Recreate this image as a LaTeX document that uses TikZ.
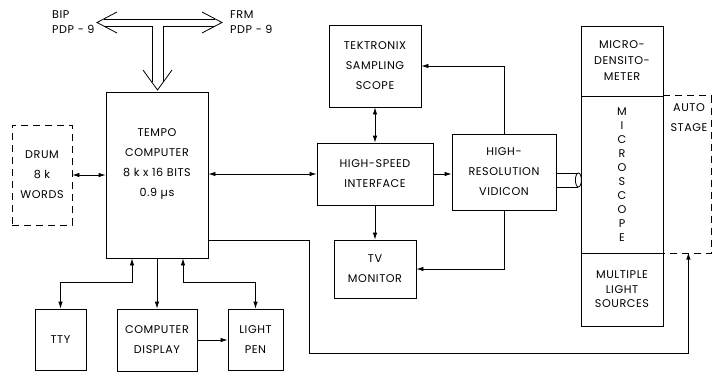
\documentclass[tikz,border=0pt]{standalone}
\usepackage{fontspec}
\usepackage{tikz}
\usetikzlibrary{arrows.meta, positioning}
\newfontfamily\diagfont{Poppins}[LetterSpace=5]
\newcommand{\lbl}{\diagfont\fontsize{11.2}{20}\selectfont}

\tikzset{
  blk/.style={draw, line width=0.8pt, align=center, inner sep=0pt, font=\lbl},
  txt/.style={align=center, inner sep=0pt, font=\lbl},
  arr/.style={line width=0.8pt, -{Latex[length=7pt,width=4.5pt]}},
  darr/.style={line width=0.8pt, {Latex[length=7pt,width=4.5pt]}-{Latex[length=7pt,width=4.5pt]}}
}

\begin{document}
\begin{tikzpicture}[x=1pt, y=-1pt]
            \useasboundingbox (0,0) rectangle (712,373);
            % computer side
            \node[blk, dashed, dash pattern=on 7pt off 5pt, minimum width=60pt, minimum height=100pt] (drum) at (42,175) {DRUM\\8 k\\WORDS};
            \node[blk, minimum width=102pt, minimum height=166pt] (tempo) at (157,175) {};
            \node[txt] at (157,164) {TEMPO\\COMPUTER\\8 k x 16 BITS\\0.9 µs};
            \node[blk, minimum width=51pt, minimum height=61pt] (tty) at (60.5,339.5) {TTY};
            \node[blk, minimum width=80pt, minimum height=62pt] (disp) at (157,340) {COMPUTER\\DISPLAY};
            \node[blk, minimum width=55pt, minimum height=61pt] (pen) at (255.5,339.5) {LIGHT\\PEN};
            % scope and vidicon
            \node[blk, minimum width=92pt, minimum height=82pt] (tek) at (375,66) {TEKTRONIX\\SAMPLING\\SCOPE};
            \node[blk, minimum width=116pt, minimum height=62pt] (hsi) at (375,174) {HIGH-SPEED\\INTERFACE};
            \node[blk, minimum width=82pt, minimum height=58pt] (tv) at (375,269) {TV\\MONITOR};
            \node[blk, minimum width=104pt, minimum height=76pt] (vid) at (504,172) {HIGH-\\RESOLUTION\\VIDICON};
            % microscope column
            \node[blk, font=\diagfont\fontsize{11.2}{16}\selectfont, minimum width=82pt, minimum height=70pt] (dens) at (622,61) {MICRO-\\DENSITO-\\METER};
            \node[blk, font=\diagfont\fontsize{11.2}{14}\selectfont, minimum width=82pt, minimum height=157pt] (scope) at (622,174.5) {M\\I\\C\\R\\O\\S\\C\\O\\P\\E};
            \node[blk, font=\diagfont\fontsize{11.2}{14.5}\selectfont, minimum width=82pt, minimum height=73pt] (lights) at (622,289.5) {MULTIPLE\\LIGHT\\SOURCES};
            \draw[line width=0.8pt, dashed, dash pattern=on 7pt off 5pt] (scope.north east) -- ++(48,0) |- (scope.south east);
            \node[txt] at (689,118) {AUTO\\STAGE};
            \coordinate (stagein) at ([xshift=25pt]lights.north east);
            % lens
            \draw[line width=0.8pt] ([yshift=-1pt]vid.east) -- ++(22,0);
            \draw[line width=0.8pt] ([yshift=-15pt]vid.east) -- ++(22,0);
            \draw[line width=0.8pt] ([xshift=22pt,yshift=-8pt]vid.east) ellipse (3 and 7);
            % bus to the PDP-9s
            \draw[line width=0.8pt] (103.7,19) -- (215.3,19);
            \draw[line width=0.8pt] (103.7,26) -- (152,26) -- (152,82.4);
            \draw[line width=0.8pt] (215.3,26) -- (163,26) -- (163,82.4);
            \draw[line width=0.8pt] (117,12) -- (97,22.5) -- (117,33);
            \draw[line width=0.8pt] (202,12) -- (222,22.5) -- (202,33);
            \draw[line width=0.8pt] (143,70) -- (157.5,90) -- (172,70);
            \node[txt, align=left, anchor=west, font=\diagfont\fontsize{11.2}{15}\selectfont] (bip) at (52,22.5) {BIP\\PDP - 9};
            \node[txt, align=left, anchor=west, font=\diagfont\fontsize{11.2}{15}\selectfont] (frm) at (230,22.5) {FRM\\PDP - 9};
            % connections
            \draw[darr] (drum.east) -- (tempo.west |- drum.east);
            \draw[darr] (tempo.east |- hsi.west) -- (hsi.west);
            \draw[arr] (hsi.east) -- (vid.west |- hsi.east);
            \draw[darr] (tek.south) -- (hsi.north);
            \draw[arr] (hsi.south) -- (tv.north);
            \draw[arr] (vid.north) |- (tek.east);
            \draw[arr] (vid.south) |- (tv.east);
            \draw[darr] ([xshift=-25pt]tempo.south) -- ++(0,24) -| (tty.north);
            \draw[arr] (tempo.south) -- (disp.north);
            \draw[darr] ([xshift=26pt]tempo.south) -- ++(0,24) -| (pen.north);
            \draw[arr] (disp.east) -- (pen.west |- disp.east);
            \draw[arr] ([yshift=-65pt]tempo.east) -- ++(101,0) -- ++(0,113) -| (stagein);
        \end{tikzpicture}
\end{document}
